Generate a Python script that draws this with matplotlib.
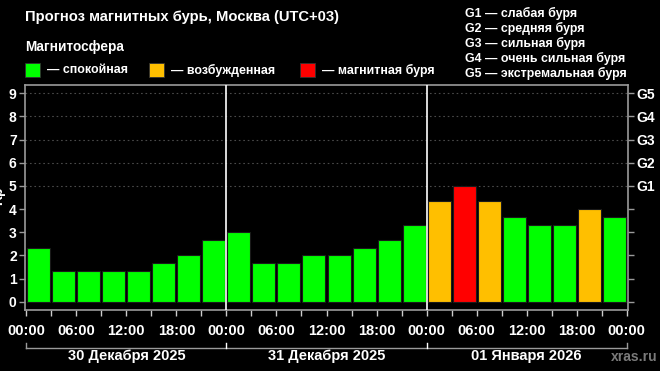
import numpy as np
import matplotlib
matplotlib.use("Agg")
import matplotlib.pyplot as plt
from matplotlib.transforms import blended_transform_factory

plt.rcParams['font.family'] = ['Liberation Sans', 'DejaVu Sans']
plt.rcParams['font.weight'] = 'bold'

# Kp forecast, 3-hour steps over three days
kp = [2.33, 1.33, 1.33, 1.33, 1.33, 1.67, 2.0, 2.67,
      3.0, 1.67, 1.67, 2.0, 2.0, 2.33, 2.67, 3.33,
      4.33, 5.0, 4.33, 3.67, 3.33, 3.33, 4.0, 3.67]
days = ["30 Декабря 2025", "31 Декабря 2025", "01 Января 2026"]
hour_labels = ["00:00", "06:00", "12:00", "18:00"] * 3 + ["00:00"]
g_labels = ["G1", "G2", "G3", "G4", "G5"]
g_text = ["G1 — слабая буря", "G2 — средняя буря", "G3 — сильная буря",
          "G4 — очень сильная буря", "G5 — экстремальная буря"]
legend_names = ["— спокойная", "— возбужденная", "— магнитная буря"]

GREEN = "#00ff00"
ORANGE = "#ffbf00"
RED = "#ff0000"
GRAY = "#9a9a9a"


def kp_color(v):
    if v >= 5:
        return RED
    if v >= 4:
        return ORANGE
    return GREEN


fig = plt.figure(figsize=(6.6, 3.71), dpi=100, facecolor="black")
ax = fig.add_axes([25 / 660, 1 - 310 / 371, 603 / 660, 225 / 371])
ax.set_facecolor("black")

x = np.arange(len(kp)) * 3
ax.bar(x + 0.12, kp, width=2.76, align="edge",
       color=[kp_color(v) for v in kp], edgecolor="#1a1a1a", linewidth=0.8, zorder=3)

ax.set_xlim(-0.15, 72.15)
ax.set_ylim(-0.35, 9.35)

# dotted lines for G levels
for lvl in range(5, 10):
    ax.axhline(lvl, color="#4a4a4a", linestyle=(0, (1.5, 2.5)), linewidth=0.8, zorder=1)

# day separators
for d in (24, 48):
    ax.axvline(d, color="white", linewidth=1.2, zorder=4)

for s in ax.spines.values():
    s.set_color(GRAY)
    s.set_linewidth(1.2)

ax.set_yticks(range(10))
ax.set_yticklabels([str(i) for i in range(10)])
ax.tick_params(axis="y", colors=GRAY, labelcolor="white", labelsize=10, length=4, width=1, pad=2)
ax.set_xticks(np.arange(0, 73, 6))
ax.set_xticklabels(hour_labels)
ax.set_xticks(np.arange(3, 72, 6), minor=True)
ax.tick_params(axis="x", which="both", colors="#cccccc", labelcolor="white", labelsize=10.5,
               length=4, width=1, pad=6)

ax2 = ax.twinx()
ax2.set_ylim(ax.get_ylim())
ax2.set_yticks(range(10))
ax2.set_yticklabels([""] * 5 + g_labels)
ax2.tick_params(axis="y", colors=GRAY, labelcolor="white", labelsize=10, length=4, width=1, pad=2)
for s in ax2.spines.values():
    s.set_visible(False)

# date brackets under the axis
tr = blended_transform_factory(ax.transData, ax.transAxes)
y_line = -38 / 225
y_tick = -33 / 225
ax.plot([0, 72], [y_line, y_line], color=GRAY, linewidth=1, transform=tr, clip_on=False)
for d in (0, 24, 48, 72):
    c = "white" if d in (24, 48) else GRAY
    ax.plot([d, d], [y_line, y_tick], color=c, linewidth=1, transform=tr, clip_on=False)
for i, name in enumerate(days):
    ax.text(i * 24 + 12, -46 / 225, name, transform=tr, ha="center", va="center",
            color="white", fontsize=10.5, fontweight="bold")
fig.text(611 / 660, 1 - 357 / 371, "xras.ru", color="#7a7a7a", fontsize=10,
         fontweight="bold", ha="left", va="center")

# header
fig.text(25 / 660, 1 - 17 / 371, "Прогноз магнитных бурь, Москва (UTC+03)",
         color="white", fontsize=10.6, fontweight="bold", va="center")
fig.text(25 / 660, 1 - 47 / 371, "Магнитосфера", color="white", fontsize=9.8,
         fontweight="bold", va="center")
for px, col, name in zip([25, 149, 300], [GREEN, ORANGE, RED], legend_names):
    fig.patches.append(plt.Rectangle((px / 660, 1 - 77 / 371), 15 / 660, 14 / 371,
                                     transform=fig.transFigure, facecolor=col,
                                     edgecolor="#333333", linewidth=0.6))
    fig.text((px + 22) / 660, 1 - 70 / 371, name, color="white", fontsize=8.9,
             fontweight="bold", va="center")
for i, t in enumerate(g_text):
    fig.text(465 / 660, 1 - (13 + i * 15.2) / 371, t, color="white", fontsize=8.9,
             fontweight="bold", va="center")

fig.text(5 / 660, 1 - 196 / 371, "Kp", color="white", fontsize=10, fontweight="bold",
         rotation=90, ha="right", va="center")

fig.savefig("out.png", dpi=100, facecolor="black")
